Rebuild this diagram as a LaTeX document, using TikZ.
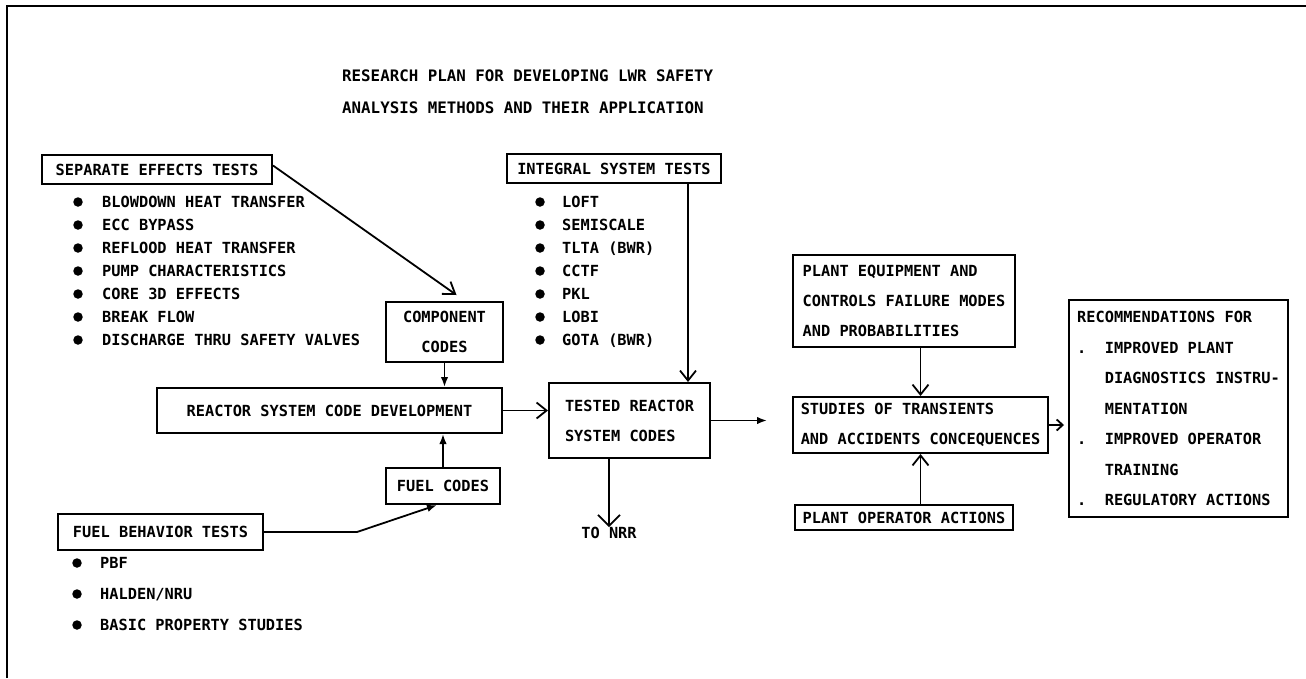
\documentclass[tikz,border=0pt]{standalone}
\usepackage{fontspec}
\newfontfamily\typewr{DejaVu Sans Mono Bold}
\usetikzlibrary{arrows.meta}
\newcommand{\rdot}{\makebox[27.6pt][l]{.}}
\newcommand{\rind}{\hspace*{27.6pt}}

\begin{document}
\begin{tikzpicture}[x=1pt, y=-1pt,
  every node/.style={font=\typewr\fontsize{15.3pt}{30pt}\selectfont},
  box/.style={draw, line width=2pt, inner sep=3pt, align=center},
  lbox/.style={box, align=left},
  itm/.style={anchor=west, inner sep=0pt, text height=11.2pt, text depth=0pt},
  bul/.style={circle, fill, inner sep=0pt, minimum size=9.5pt},
  arrfill/.style={-{Latex[length=10pt, width=7.5pt]}, line width=1.8pt},
  arrbarb/.style={-{Straight Barb[length=10pt, width=16pt, line width=1.8pt]},
    line width=1.8pt}
]
\path[fill=white] (0,0) rectangle (1306,678);
\useasboundingbox (0,0) rectangle (1306,678);
\draw[line width=2pt] (7,678) -- (7,6) -- (1306,6);

\node[itm, font=\typewr\fontsize{15.8pt}{30pt}\selectfont] (title1) at (342,76)
  {RESEARCH PLAN FOR DEVELOPING LWR SAFETY};
\node[itm, font=\typewr\fontsize{15.8pt}{30pt}\selectfont] (title2) at (342,108)
  {ANALYSIS METHODS AND THEIR APPLICATION};

\node[box, minimum width=230pt, minimum height=29pt] (sep) at (157,169.5)
  {SEPARATE EFFECTS TESTS};
\foreach \txt [count=\i] in {BLOWDOWN HEAT TRANSFER, ECC BYPASS,
  REFLOOD HEAT TRANSFER, PUMP CHARACTERISTICS, CORE 3D EFFECTS, BREAK FLOW,
  DISCHARGE THRU SAFETY VALVES}{
  \node[bul] (sepd\i) at (78,179+23*\i) {};
  \node[itm] (sepi\i) at (102,179+23*\i) {\txt};
}

\node[box, minimum width=214pt, minimum height=29pt] (integ) at (614,168.5)
  {INTEGRAL SYSTEM TESTS};
\foreach \txt [count=\i] in {LOFT, SEMISCALE, {TLTA (BWR)}, CCTF, PKL, LOBI,
  {GOTA (BWR)}}{
  \node[bul] (intd\i) at (540,179+23*\i) {};
  \node[itm] (inti\i) at (562,179+23*\i) {\txt};
}

\node[box, minimum width=205pt, minimum height=36pt] (fuelb) at (160.5,532)
  {FUEL BEHAVIOR TESTS};
\foreach \txt [count=\i] in {PBF, {HALDEN/NRU}, BASIC PROPERTY STUDIES}{
  \node[bul] (fueld\i) at (77,532+31*\i) {};
  \node[itm] (fueli\i) at (100,532+31*\i) {\txt};
}

\node[box, minimum width=117pt, minimum height=60pt] (comp) at (444.5,332)
  {COMPONENT\\CODES};
\node[box, minimum width=345pt, minimum height=45pt] (rsd) at (329.5,410.5)
  {REACTOR SYSTEM CODE DEVELOPMENT};
\node[box, minimum width=114pt, minimum height=36pt] (fuelc) at (443,486)
  {FUEL CODES};
\node[lbox, minimum width=161pt, minimum height=75pt] (tested) at (629.5,420.5)
  {TESTED REACTOR\\SYSTEM CODES};
\node[inner sep=0pt, text height=11.2pt, text depth=0pt] (nrr) at (609,533)
  {TO NRR};
\node[lbox, minimum width=222pt, minimum height=92pt] (plant) at (904,301)
  {PLANT EQUIPMENT AND\\CONTROLS FAILURE MODES\\AND PROBABILITIES};
\node[lbox, minimum width=255pt, minimum height=56pt] (study) at (920.5,425)
  {STUDIES OF TRANSIENTS\\AND ACCIDENTS CONCEQUENCES};
\node[box, minimum width=218pt, minimum height=25pt, inner sep=1pt] (oper)
  at (904,517.5) {PLANT OPERATOR ACTIONS};
\node[lbox, minimum width=219pt, minimum height=217pt,
  font=\typewr\fontsize{15.3pt}{30.5pt}\selectfont] (recom) at (1178.5,408.5)
  {RECOMMENDATIONS FOR\\
   \rdot IMPROVED PLANT\\
   \rind DIAGNOSTICS INSTRU-\\
   \rind MENTATION\\
   \rdot IMPROVED OPERATOR\\
   \rind TRAINING\\
   \rdot REGULATORY ACTIONS};

\coordinate (fbend) at (357,532);
\path ([xshift=74pt]integ.south) coordinate (intdrop);

\draw[arrbarb, -{Straight Barb[length=11pt, width=15pt, line width=1.8pt]}]
  ([yshift=4pt]sep.east) -- ([xshift=12pt, yshift=6pt]comp.north);
\draw[arrfill] (comp.south) -- (comp.south |- rsd.north);
\draw[arrfill] (fuelc.north) -- (fuelc.north |- rsd.south);
\draw[arrfill] (fuelb.east) -- (fbend) -- ([xshift=-6pt]fuelc.south);
\draw[arrbarb, line width=1.3pt] (rsd.east) -- (rsd.east -| tested.west);
\draw[arrbarb] (intdrop) -- (intdrop |- tested.north);
\draw[arrbarb, -{Straight Barb[length=11pt, width=22pt, line width=1.8pt]}]
  (tested.south -| nrr.north) -- (nrr.north);
\draw[arrfill, shorten >=25pt] (tested.east) -- (tested.east -| study.west);
\draw[arrbarb] (plant.south -| study.north) -- (study.north);
\draw[arrbarb] (oper.north -| study.south) -- (study.south);
\draw[arrbarb, -{Straight Barb[length=6pt, width=11pt, line width=1.8pt]},
  shorten >=4pt] (study.east) -- (study.east -| recom.west);
\end{tikzpicture}
\end{document}
